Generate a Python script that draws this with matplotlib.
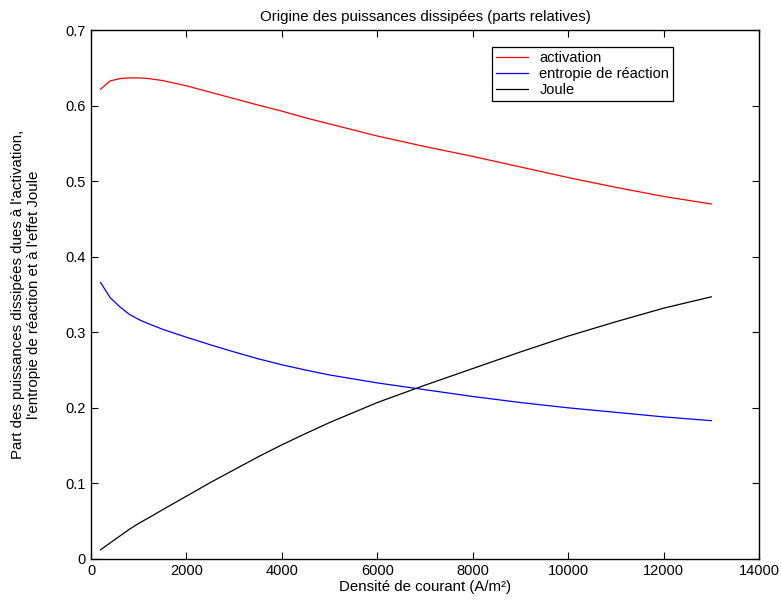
import numpy as np
import matplotlib.pyplot as plt

plt.rcParams['font.family'] = ['Liberation Sans', 'DejaVu Sans']

# densité de courant (A/m²)
densite = [200, 400, 600, 800, 1000, 1200, 1500, 2000, 2500, 3000, 3500, 4000, 4500,
           5000, 6000, 7000, 8000, 9000, 10000, 11000, 12000, 13000]

# parts relatives des puissances dissipées
activation = [0.622, 0.633, 0.636, 0.637, 0.637, 0.6362, 0.6335, 0.6265, 0.618, 0.6095,
              0.601, 0.593, 0.584, 0.576, 0.560, 0.546, 0.533, 0.519, 0.505, 0.492,
              0.480, 0.470]
entropie = [0.366, 0.346, 0.334, 0.324, 0.317, 0.3115, 0.304, 0.2935, 0.2835, 0.274,
            0.265, 0.257, 0.250, 0.2435, 0.233, 0.224, 0.215, 0.207, 0.200, 0.194,
            0.188, 0.183]
joule = [0.012, 0.021, 0.030, 0.039, 0.047, 0.054, 0.065, 0.083, 0.101, 0.118,
         0.135, 0.151, 0.166, 0.1805, 0.207, 0.230, 0.252, 0.274, 0.295, 0.314,
         0.332, 0.347]

fig = plt.figure(figsize=(7.82, 6.04), dpi=100)
ax = fig.add_axes([0.1164, 0.0748, 0.8542, 0.8750])

ax.plot(densite, activation, color='red', lw=0.9, label='activation')
ax.plot(densite, entropie, color='blue', lw=0.9, label='entropie de réaction')
ax.plot(densite, joule, color='black', lw=0.9, label='Joule')

ax.set_xlim(0, 14000)
ax.set_ylim(0, 0.7)
ax.set_xticks(np.arange(0, 14001, 2000))
ax.set_yticks(np.arange(0, 0.71, 0.1))
ax.set_yticklabels(['0', '0.1', '0.2', '0.3', '0.4', '0.5', '0.6', '0.7'])
ax.tick_params(direction='in', top=True, right=True, length=5, width=0.8,
               labelsize=10.5, pad=4)
for s in ax.spines.values():
    s.set_linewidth(1.0)

ax.set_title('Origine des puissances dissipées (parts relatives)', fontsize=10.8, pad=7)
ax.set_xlabel('Densité de courant (A/m²)', fontsize=10.8, labelpad=1)
ax.set_ylabel("Part des puissances dissipées dues à l'activation,\n"
              "l'entropie de réaction et à l'effet Joule", fontsize=10.8, labelpad=17)

leg = ax.legend(loc='upper right', bbox_to_anchor=(0.871, 0.968), borderaxespad=0,
                fontsize=10.5, fancybox=False, edgecolor='black', framealpha=1,
                handlelength=2.2, handletextpad=0.8, labelspacing=0.15,
                borderpad=0.25)
leg.get_frame().set_linewidth(0.9)

fig.savefig('out.png', dpi=100)
